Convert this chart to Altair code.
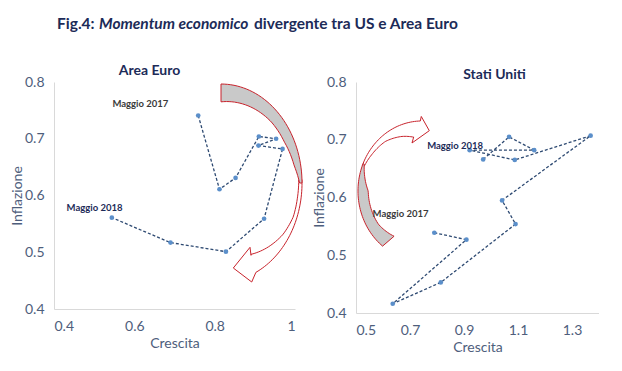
import altair as alt
import pandas as pd
import numpy as np

# ---------------- data ----------------
ea_crescita   = [0.759, 0.812, 0.852, 0.910, 0.953, 0.909, 0.969, 0.923, 0.828, 0.690, 0.544]
ea_inflazione = [0.741, 0.611, 0.631, 0.704, 0.700, 0.688, 0.682, 0.559, 0.501, 0.517, 0.561]

us_crescita   = [0.790, 0.909, 0.636, 0.814, 1.091, 1.041, 1.369, 1.088, 0.921, 1.160, 1.067, 0.971]
us_inflazione = [0.539, 0.527, 0.416, 0.453, 0.554, 0.595, 0.707, 0.665, 0.682, 0.682, 0.705, 0.666]

ea_ann_text = ["Maggio 2017", "Maggio 2018"]
ea_ann_x    = [0.615, 0.501]
ea_ann_y    = [0.761, 0.578]
us_ann_text = ["Maggio 2017", "Maggio 2018"]
us_ann_x    = [0.665, 0.867]
us_ann_y    = [0.571, 0.690]

ea_x_ticks = [0.4, 0.6, 0.8, 1.0]
us_x_ticks = [0.5, 0.7, 0.9, 1.1, 1.3]
y_ticks    = [0.4, 0.5, 0.6, 0.7, 0.8]

title_parts = ["Fig.4:", "Momentum economico", "divergente tra US e Area Euro"]

# arrow anchors (data coords of the arc centres)
ea_arrow_at = (0.8158, 0.622)
us_arrow_at = (0.7444, 0.6113)

# ---------------- styles ----------------
FONT = "Lato"
NAVY = "#1C2B58"
AXC = "#4E5E7C"
PT = "#5B8FCA"
LN = "#2E4A72"
RED = "#C8232C"
GREY = "#C9C9C9"


def arc(rx, ry, t0, t1, kp, n=40):
    ts = np.linspace(t0, t1, n)
    kx = [p[0] for p in kp]
    ky = [p[1] for p in kp]
    ks = np.interp(ts, kx, ky)
    r = np.radians(ts)
    return [(rx * k * np.cos(a), ry * k * np.sin(a)) for k, a in zip(ks, r)]


def path(pts):
    return "M" + " L".join(f"{x:.2f},{y:.2f}" for x, y in pts) + " Z"


# left (Area Euro) arrow, pixel offsets from its centre
L_rx, L_ry = 81, 99
l_back = arc(L_rx, L_ry, -90, 0, [(-90, 1), (0, 1)]) + arc(
    L_rx, L_ry, 0, -90, [(-90, .82), (-45, .875), (-28, .885), (-11, .92), (0, .97)])
l_front = (arc(L_rx, L_ry, -2, 64.5, [(-2, 1), (64.5, 1)])
           + [(30.7, 99), (12.3, 85), (29, 64.3), (30, 72.3)]
           + arc(L_rx, L_ry, 62.8, -2, [(-2, .96), (9, .955), (21, .955), (34, .925), (48, .87), (62.8, .81)]))

# right (Stati Uniti) arrow
R_rx, R_ry = 64, 70
r_back = arc(R_rx, R_ry, 203, 128, [(128, 1), (203, 1)]) + arc(
    R_rx, R_ry, 124, 203, [(124, .78), (145, .83), (180, .84), (203, .98)])
r_front = (arc(R_rx, R_ry, 201, 268.5, [(201, 1), (268.5, 1)])
           + [(-0.7, -74.5), (7.3, -60.3), (-10, -48), (-8.3, -54)]
           + arc(R_rx, R_ry, 260.4, 201, [(201, .97), (214, .94), (231, .91), (248, .84), (260.4, .78)]))


def panel(cr, inf, ann_t, ann_x, ann_y, ann_col, xdom, xticks, w, h, arrow_at, back, front, title, tdx, toff):
    df = pd.DataFrame({"ord": list(range(len(cr))), "Crescita": cr, "Inflazione": inf})
    x = alt.X("Crescita:Q", scale=alt.Scale(domain=xdom, nice=False, zero=False),
              axis=alt.Axis(values=xticks, format="~g", title="Crescita"))
    y = alt.Y("Inflazione:Q", scale=alt.Scale(domain=[0.4, 0.8], nice=False, zero=False),
              axis=alt.Axis(values=y_ticks, format="~g", title="Inflazione"))
    adf = pd.DataFrame({"Crescita": [arrow_at[0]], "Inflazione": [arrow_at[1]]})
    front_l = alt.Chart(adf).mark_point(shape=path(front), size=4, filled=True, fill="white",
                                        stroke=RED, strokeWidth=1, opacity=1).encode(x, y)
    back_l = alt.Chart(adf).mark_point(shape=path(back), size=4, filled=True, fill=GREY,
                                       stroke=RED, strokeWidth=1, opacity=1).encode(x, y)
    line = alt.Chart(df).mark_line(strokeDash=[3, 2], color=LN, strokeWidth=1.3).encode(
        x, y, order="ord:Q")
    pts = alt.Chart(df).mark_circle(size=22, color=PT, opacity=1).encode(x, y)
    tdf = pd.DataFrame({"Crescita": ann_x, "Inflazione": ann_y, "t": ann_t, "c": ann_col})
    txt = alt.Chart(tdf).mark_text(font=FONT, fontSize=9.5, fontWeight="bold").encode(
        x, y, text="t:N", color=alt.Color("c:N", scale=None))
    return alt.layer(front_l, back_l, line, pts, txt).properties(
        width=w, height=h,
        title=alt.TitleParams(title, anchor="middle", frame="group", dx=tdx, offset=toff,
                              fontSize=14, fontWeight="bold", color=NAVY, font=FONT))


left = panel(ea_crescita, ea_inflazione, ea_ann_text, ea_ann_x, ea_ann_y, ["#3A3A3A", NAVY],
             [0.4, 1.0], ea_x_ticks, 241, 227, ea_arrow_at, l_back, l_front, "Area Euro", -25, -3)
right = panel(us_crescita, us_inflazione, us_ann_text, us_ann_x, us_ann_y, ["#3A3A3A", NAVY],
              [0.5, 1.4], us_x_ticks, 243, 231, us_arrow_at, r_back, r_front, "Stati Uniti", 17, -7)

# figure title made of three differently styled pieces
tparts = []
for txt_, px, sty in zip(title_parts, [3, 45, 200], ["normal", "italic", "normal"]):
    tparts.append(alt.Chart(pd.DataFrame({"t": [txt_]})).mark_text(
        font=FONT, fontSize=15.5, fontWeight="bold", fontStyle=sty, color=NAVY,
        align="left", baseline="middle").encode(x=alt.value(px), y=alt.value(16), text="t:N"))
title_chart = alt.layer(*tparts).properties(width=420, height=44)

chart = alt.vconcat(title_chart, alt.hconcat(left, right, spacing=7), spacing=12).properties(
    padding={"left": 2, "top": 0, "right": 0, "bottom": 0}
).configure_view(stroke=None).configure_axis(
    grid=False, ticks=False, domainColor="#D9D9D9", domainWidth=1,
    labelFont=FONT, labelFontSize=14, labelColor=AXC, labelPadding=10,
    titleFont=FONT, titleFontSize=14, titleColor=AXC, titleFontWeight="normal",
).configure_axisY(minExtent=26, maxExtent=26, titlePadding=4).configure_axisX(titlePadding=3)

chart.save("out.html", embed_options={"renderer": "svg", "actions": False})
